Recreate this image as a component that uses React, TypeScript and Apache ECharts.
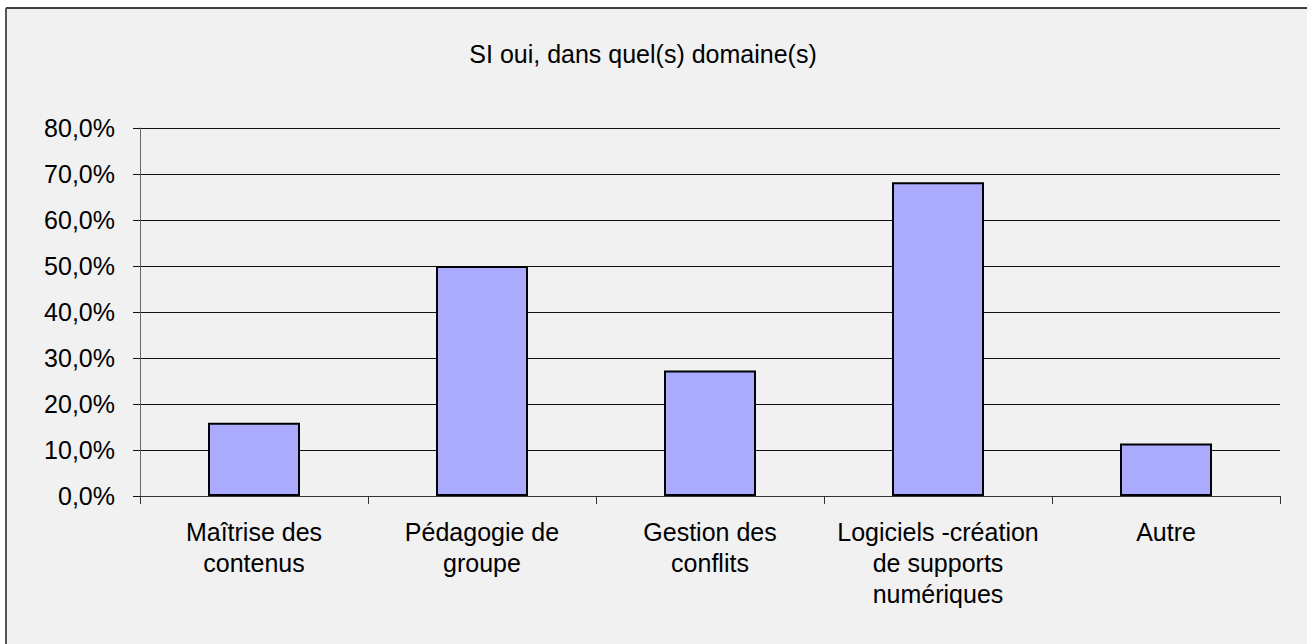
import React, { useEffect, useRef } from "react";
import * as echarts from "echarts";

const categories = [
  "Maîtrise des\ncontenus",
  "Pédagogie de\ngroupe",
  "Gestion des\nconflits",
  "Logiciels -création\nde supports\nnumériques",
  "Autre",
];
const values = [15.9, 50.0, 27.3, 68.2, 11.4];
const title = "SI oui, dans quel(s) domaine(s)";
const yMin = 0;
const yMax = 80;
const yStep = 10;

const FONT = "'Liberation Sans', Arial, sans-serif";

export default function App() {
  const ref = useRef<HTMLDivElement>(null);
  useEffect(() => {
    document.body.style.margin = "0";
    if (!ref.current) return;
    const chart = echarts.init(ref.current, null, { renderer: "svg" });
    chart.setOption({
      animation: false,
      backgroundColor: "#ffffff",
      graphic: [
        {
          type: "rect",
          z: -10,
          silent: true,
          shape: { x: 6, y: 8, width: 1400, height: 700 },
          style: { fill: "#f1f1f1", stroke: "none" },
        },
        {
          type: "line",
          shape: { x1: 6, y1: 8, x2: 1307, y2: 8 },
          style: { stroke: "#000", lineWidth: 1.5 },
        },
        {
          type: "line",
          shape: { x1: 6, y1: 8, x2: 6, y2: 644 },
          style: { stroke: "#555", lineWidth: 2 },
        },
        {
          type: "text",
          x: 643,
          y: 54,
          style: {
            text: title,
            fill: "#000",
            font: `25px ${FONT}`,
            textAlign: "center",
            textVerticalAlign: "middle",
          },
        },
      ],
      grid: {
        left: 140,
        right: 27,
        top: 128,
        bottom: 148,
        outerBoundsMode: "none",
      },
      xAxis: {
        type: "category",
        data: categories,
        boundaryGap: true,
        axisLine: { show: true, lineStyle: { color: "#333", width: 1 } },
        axisTick: { show: true, length: 8, alignWithLabel: false, lineStyle: { color: "#333" } },
        axisLabel: {
          interval: 0,
          margin: 20,
          color: "#000",
          fontSize: 25,
          lineHeight: 31,
          fontFamily: FONT,
          align: "center",
        },
        splitLine: { show: false },
      },
      yAxis: {
        type: "value",
        min: yMin,
        max: yMax,
        interval: yStep,
        axisLine: { show: true, lineStyle: { color: "#666", width: 1 } },
        axisTick: { show: true, length: 7, lineStyle: { color: "#111" } },
        axisLabel: {
          margin: 25,
          color: "#000",
          fontSize: 25,
          fontFamily: FONT,
          formatter: (v: number) => v.toFixed(1).replace(".", ",") + "%",
        },
        splitLine: { show: true, lineStyle: { color: "#111", width: 1 } },
      },
      series: [
        {
          type: "bar",
          data: values,
          barWidth: 92,
          itemStyle: { color: "#aaaaff", borderColor: "#000", borderWidth: 2 },
        },
      ],
    });
    return () => chart.dispose();
  }, []);
  return <div ref={ref} style={{ width: 1307, height: 644 }} />;
}
